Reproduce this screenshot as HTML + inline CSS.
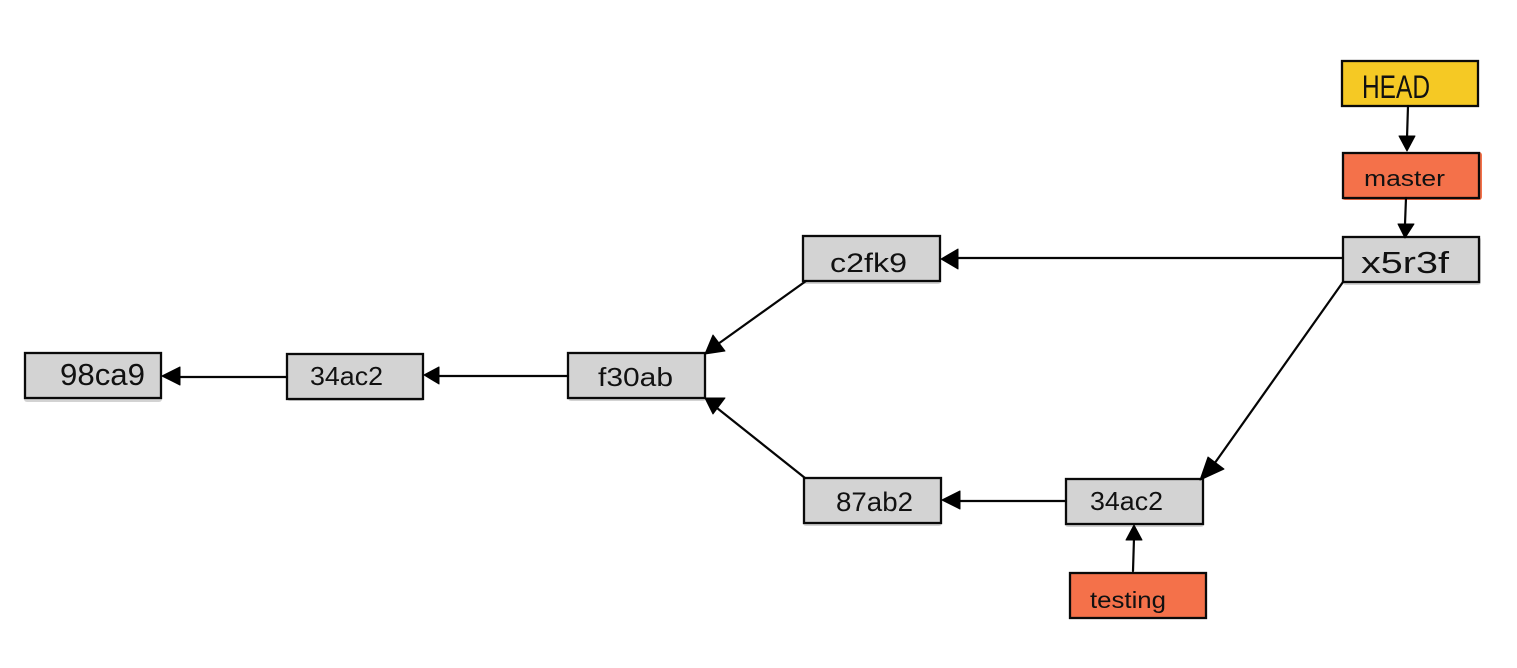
<!DOCTYPE html>
<html>
<head>
<meta charset="utf-8">
<style>
html,body{margin:0;padding:0;background:#fff;width:1517px;height:668px;overflow:hidden}
svg{display:block}
.b{stroke:#0a0a0a;stroke-width:2.3;fill:none}
.g{fill:#d3d3d3}.o{fill:#f4714a}.y{fill:#f5c924}
line{stroke:#050505;stroke-width:2.2;stroke-linecap:round}
polygon{fill:#000;stroke:#000;stroke-width:1;stroke-linejoin:round}
text{font-family:"Liberation Sans","DejaVu Sans",sans-serif;fill:#111}
</style>
</head>
<body>
<svg width="1517" height="668" viewBox="0 0 1517 668" xmlns="http://www.w3.org/2000/svg">
<!-- sketchy offset fills -->
<rect class="y" x="1341" y="60" width="138" height="47"/>
<rect class="o" x="1342" y="152" width="140" height="48" rx="3"/>
<rect class="g" x="1343" y="237" width="138" height="48" rx="3"/>
<rect class="g" x="802" y="236" width="139" height="48" rx="3"/>
<rect class="g" x="24" y="353" width="138" height="49" rx="3"/>
<rect class="g" x="287" y="354" width="137" height="47" rx="3"/>
<rect class="g" x="568" y="353" width="138" height="48" rx="3"/>
<rect class="g" x="803" y="478" width="139" height="48" rx="3"/>
<rect class="g" x="1065" y="479" width="139" height="48" rx="3"/>
<rect class="o" x="1069" y="572" width="138" height="47"/>

<rect class="b" x="1342" y="61" width="136" height="45"/>
<rect class="b" x="1343" y="153" width="136" height="45"/>
<rect class="b" x="1343" y="237" width="136" height="45"/>
<rect class="b" x="803" y="236" width="137" height="45"/>
<rect class="b" x="25" y="353" width="136" height="45"/>
<rect class="b" x="287" y="354" width="136" height="45"/>
<rect class="b" x="568" y="353" width="137" height="45"/>
<rect class="b" x="804" y="478" width="137" height="45"/>
<rect class="b" x="1066" y="479" width="137" height="45"/>
<rect class="b" x="1070" y="573" width="136" height="45"/>

<line x1="1408" y1="106" x2="1407" y2="138"/>
<polygon points="1399,136 1415,136 1407,151"/>
<line x1="1406" y1="198" x2="1405" y2="224"/>
<polygon points="1398,224 1414,224 1405,238"/>
<line x1="1343" y1="258" x2="955" y2="258"/>
<polygon points="958,249 958,269 941,259"/>
<line x1="1343" y1="282" x2="1212" y2="467"/>
<polygon points="1208,457 1224,469 1200,480"/>
<line x1="806" y1="281" x2="718" y2="344"/>
<polygon points="713,335 725,351 705,354"/>
<line x1="568" y1="376" x2="436" y2="376"/>
<polygon points="439,367 439,384 424,375"/>
<line x1="287" y1="377" x2="176" y2="377"/>
<polygon points="180,367 180,385 162,376"/>
<line x1="805" y1="478" x2="717" y2="408"/>
<polygon points="725,398 713,414 705,398"/>
<line x1="1066" y1="501" x2="955" y2="501"/>
<polygon points="960,491 960,509 942,500"/>
<line x1="1133" y1="571" x2="1134" y2="538"/>
<polygon points="1126,540 1142,540 1134,525"/>

<text x="1362" y="98" font-size="32" textLength="68" lengthAdjust="spacingAndGlyphs">HEAD</text>
<text x="1364" y="186" font-size="22" textLength="81" lengthAdjust="spacingAndGlyphs">master</text>
<text x="1361" y="273" font-size="31" textLength="88" lengthAdjust="spacingAndGlyphs">x5r3f</text>
<text x="830" y="272" font-size="27" textLength="77" lengthAdjust="spacingAndGlyphs">c2fk9</text>
<text x="60" y="385" font-size="31" textLength="85" lengthAdjust="spacingAndGlyphs">98ca9</text>
<text x="310" y="385" font-size="26" textLength="73" lengthAdjust="spacingAndGlyphs">34ac2</text>
<text x="598" y="386" font-size="26" textLength="75" lengthAdjust="spacingAndGlyphs">f30ab</text>
<text x="836" y="511" font-size="27" textLength="77" lengthAdjust="spacingAndGlyphs">87ab2</text>
<text x="1090" y="510" font-size="26" textLength="73" lengthAdjust="spacingAndGlyphs">34ac2</text>
<text x="1090" y="608" font-size="23" textLength="76" lengthAdjust="spacingAndGlyphs">testing</text>
</svg>
</body>
</html>
